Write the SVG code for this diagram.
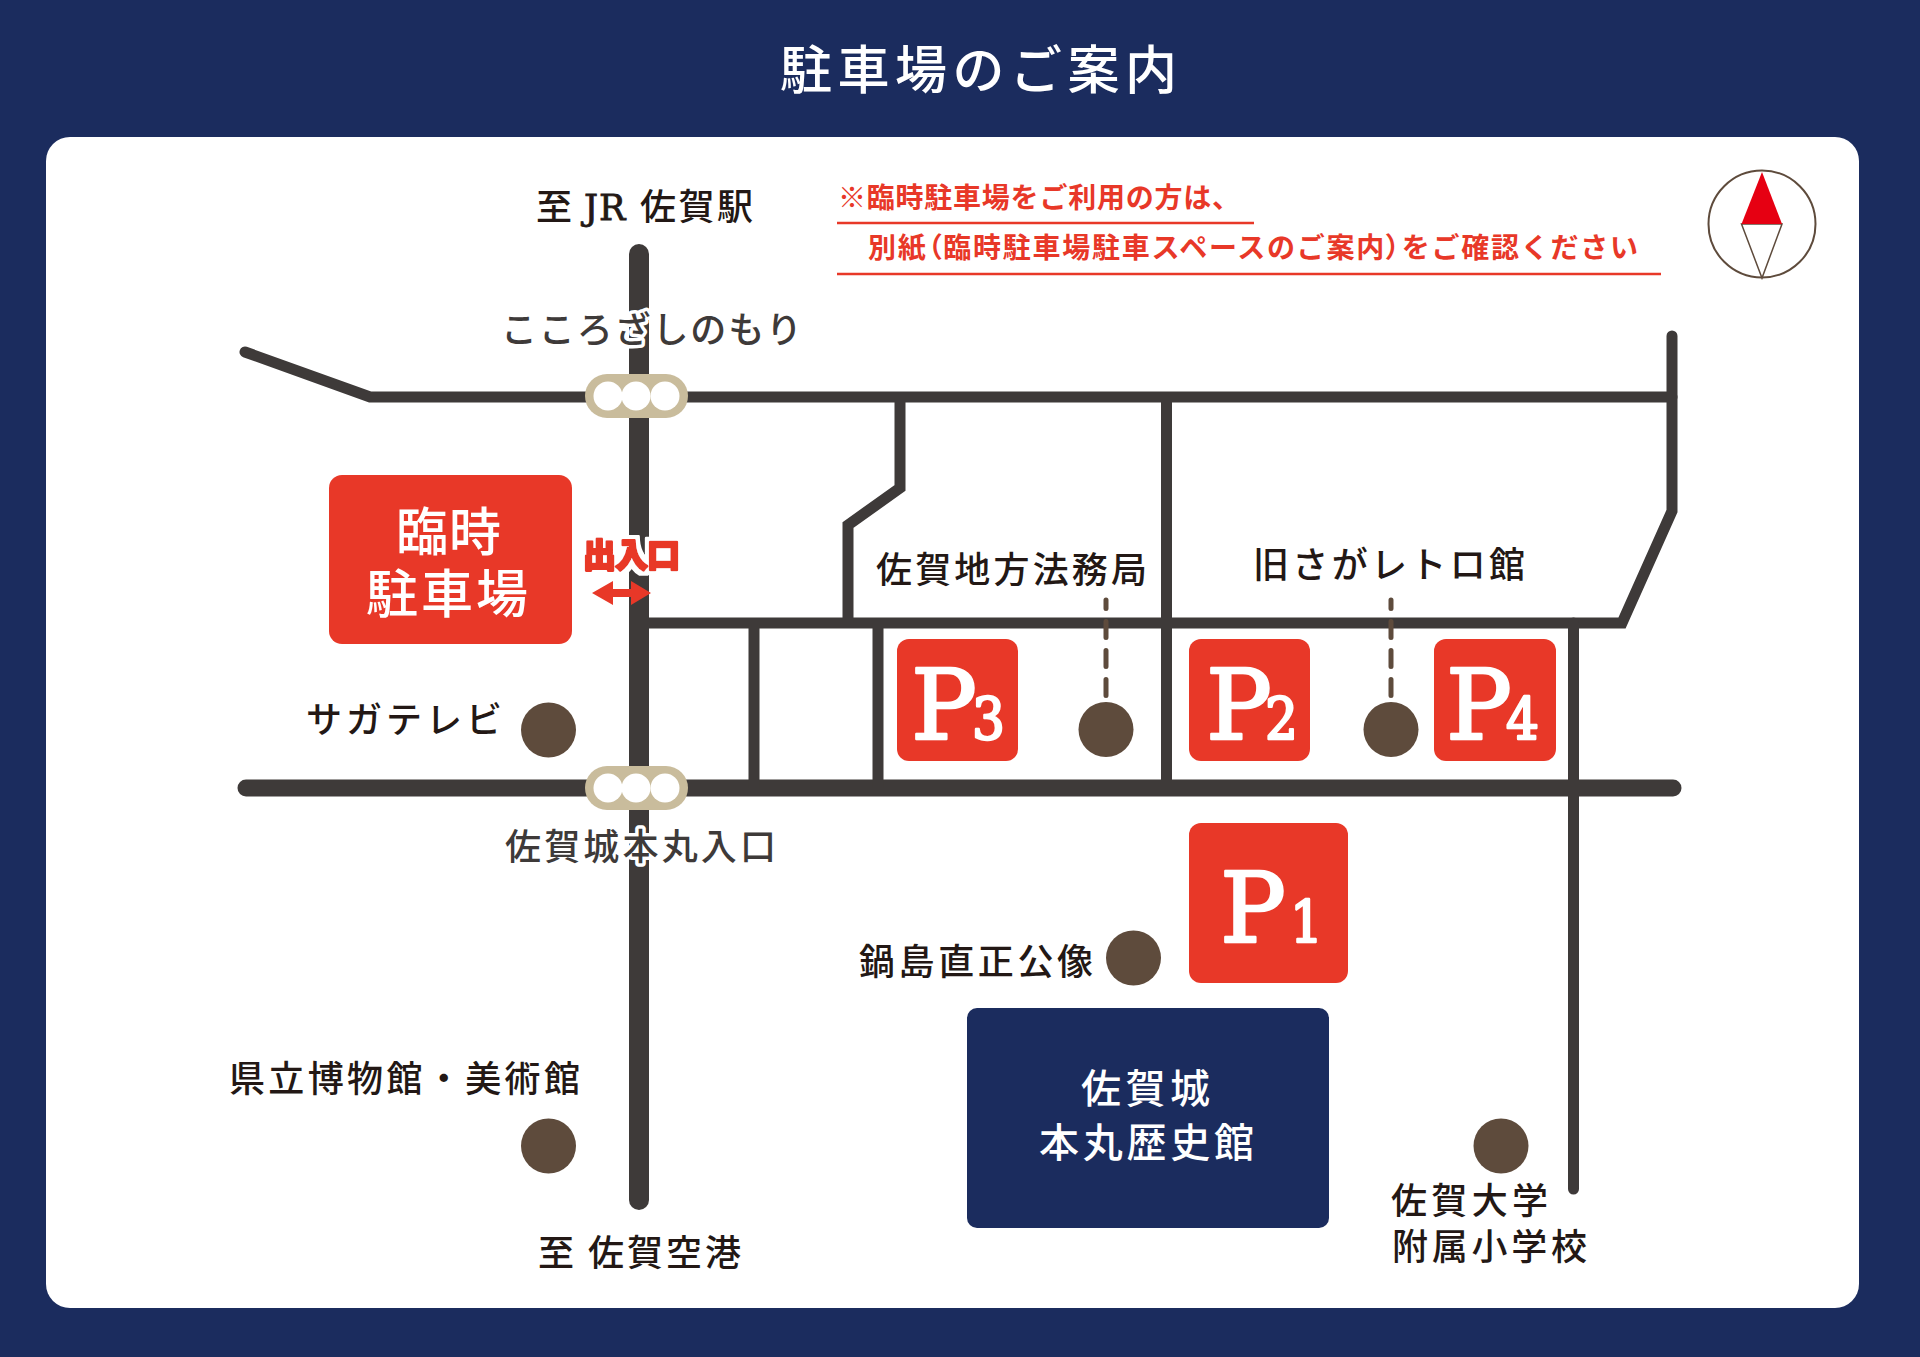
<svg xmlns="http://www.w3.org/2000/svg" width="1920" height="1357" viewBox="0 0 1920 1357">
<defs>
<filter id="wh" x="-15%" y="-30%" width="130%" height="160%"><feMorphology in="SourceAlpha" operator="dilate" radius="4"/><feComposite in2="SourceAlpha" operator="over" result="d"/><feFlood flood-color="#fff"/><feComposite in2="d" operator="in" result="h"/><feMerge><feMergeNode in="h"/><feMergeNode in="SourceGraphic"/></feMerge></filter>
</defs>
<style>
text{font-family:"Noto Sans CJK JP","Noto Sans",sans-serif;fill:#231815}
.road{fill:none;stroke:#3e3a39;stroke-linejoin:miter}
.rc{stroke-linecap:round}
.dash{fill:none;stroke:#5e4b3c;stroke-width:5;stroke-linecap:round;stroke-dasharray:16 13}
.pill{fill:#c9bc9c}
.lamp{fill:#fff}
.dot{fill:#5e4b3c}
.red{fill:#e83828}
.lb{font-size:36px;font-weight:500}
.halo{stroke:#fff;stroke-width:7;paint-order:stroke;stroke-linejoin:round;fill:#3e3a39}
.w{fill:#fff}
.note{font-size:28px;font-weight:700;fill:#e83828}
.p{font-family:"DejaVu Serif",serif;fill:#fff;stroke:#fff;stroke-width:2.500;stroke-linejoin:round}
.pl{font-size:98px}
.pd{font-size:58px}
.rule{stroke:#e83828;stroke-width:2.500}
.palt{font-feature-settings:"palt"}
.jr{font-family:"DejaVu Serif",serif;font-size:35px;letter-spacing:1px;stroke:#231815;stroke-width:.8px}
</style>
<rect width="1920" height="1357" fill="#1b2c5e"/>
<rect x="46" y="137" width="1813" height="1171" rx="24" fill="#fff"/>
<g id="title"><text class="w" x="780" y="89" font-size="52" font-weight="500" textLength="397">駐車場のご案内</text></g>
<g id="roads">
<path class="road rc" stroke-width="11" d="M245 352L370 397H1672"/>
<path class="road rc" stroke-width="11" d="M1672 336V511L1622 623H645"/>
<path class="road rc" stroke-width="17" d="M246 788H1673"/>
<path class="road rc" stroke-width="20" d="M639 254V1200"/>
<path class="road" stroke-width="11" d="M900 397V488L848 525V623"/>
<path class="road" stroke-width="11" d="M754 623V788"/>
<path class="road" stroke-width="11" d="M878 623V788"/>
<path class="road" stroke-width="11" d="M1166.500 397V788"/>
<path class="road rc" stroke-width="11" d="M1573.500 623V1189"/>
<path class="dash" d="M1106 695.500V600"/>
<path class="dash" d="M1391 695.500V600"/>
</g>
<g id="signal-north"><rect class="pill" x="585" y="374" width="103" height="44" rx="22"/><circle class="lamp" cx="608" cy="396" r="14.500"/><circle class="lamp" cx="636" cy="396" r="14.500"/><circle class="lamp" cx="665" cy="396" r="14.500"/></g>
<g id="signal-south"><rect class="pill" x="585" y="766" width="103" height="44" rx="22"/><circle class="lamp" cx="608" cy="788" r="14.500"/><circle class="lamp" cx="636" cy="788" r="14.500"/><circle class="lamp" cx="665" cy="788" r="14.500"/></g>
<g id="to-station"><text class="lb" x="536" y="220">至<tspan class="jr" x="584">JR</tspan><tspan x="640" textLength="113">佐賀駅</tspan></text></g>
<g id="to-airport"><text class="lb" x="538" y="1266" textLength="203">至 佐賀空港</text></g>
<g id="kokorozashi"><text class="lb halo" x="501" y="343" textLength="301">こころざしのもり</text></g>
<g id="honmaru-iriguchi"><text class="lb halo" x="505" y="860" textLength="271">佐賀城本丸入口</text></g>
<g id="notes">
<text class="note" x="838" y="208" textLength="402">※臨時駐車場をご利用の方は、</text>
<line class="rule" x1="837" y1="223" x2="1254" y2="223"/>
<text class="note" x="868" y="258" textLength="770">別紙<tspan class="palt">（</tspan>臨時駐車場駐車スペースのご案内<tspan class="palt">）</tspan>をご確認ください</text>
<line class="rule" x1="837" y1="274" x2="1661" y2="274"/>
</g>
<g id="compass">
<circle cx="1762" cy="224" r="53.500" fill="#fff" stroke="#5e4b3c" stroke-width="2"/>
<path d="M1741.500 224L1762 278L1782 224Z" fill="#fff" stroke="#5e4b3c" stroke-width="1.500"/>
<path d="M1741.500 224L1762 172L1782 224Z" fill="#e60012"/>
</g>
<g id="temp-parking">
<rect class="red" x="329" y="475" width="243" height="169" rx="13"/>
<text class="w" x="396" y="551" font-size="52" font-weight="500" textLength="105">臨時</text>
<text class="w" x="366" y="613" font-size="52" font-weight="500" textLength="162">駐車場</text>
</g>
<g id="entrance">
<text x="583" y="567" font-size="33" font-weight="900" textLength="97" filter="url(#wh)" style="fill:#e83828;stroke:#e83828;stroke-width:2.500;stroke-linejoin:round">出入口</text>
<path class="red" d="M592 593L613 581V589H631V581L651 593L631 605V597H613V605Z"/>
</g>
<g id="p3"><rect class="red" x="897" y="639" width="121" height="122" rx="12"/><text class="p pl" x="911" y="739">P</text><text class="p pd" x="972" y="739" textLength="33" lengthAdjust="spacingAndGlyphs">3</text></g>
<g id="p2"><rect class="red" x="1189" y="639" width="121" height="122" rx="12"/><text class="p pl" x="1206" y="739">P</text><text class="p pd" x="1265" y="739" textLength="33" lengthAdjust="spacingAndGlyphs">2</text></g>
<g id="p4"><rect class="red" x="1434" y="639" width="122" height="122" rx="12"/><text class="p pl" x="1446" y="739">P</text><text class="p pd" x="1506" y="739" textLength="33" lengthAdjust="spacingAndGlyphs">4</text></g>
<g id="p1"><rect class="red" x="1189" y="823" width="159" height="160" rx="12"/><text class="p pl" x="1220" y="942">P</text><text class="p pd" x="1290" y="942" textLength="33" lengthAdjust="spacingAndGlyphs">1</text></g>
<g id="honmaru-museum">
<rect x="967" y="1008" width="362" height="220" rx="10" fill="#1b2c5e"/>
<text class="w" x="1081" y="1103" font-size="40" font-weight="500" textLength="129">佐賀城</text>
<text class="w" x="1039" y="1157" font-size="40" font-weight="500" textLength="215">本丸歴史館</text>
</g>
<g id="legal-bureau"><text class="lb" x="876" y="583" textLength="271">佐賀地方法務局</text><circle class="dot" cx="1106" cy="729.500" r="27.500"/></g>
<g id="retro-hall"><text class="lb" x="1253" y="578" textLength="272">旧さがレトロ館</text><circle class="dot" cx="1391" cy="729.500" r="27.500"/></g>
<g id="saga-tv"><text class="lb" x="306" y="733" textLength="196">サガテレビ</text><circle class="dot" cx="548.500" cy="730" r="27.500"/></g>
<g id="nabeshima"><text class="lb" x="859" y="975" textLength="234">鍋島直正公像</text><circle class="dot" cx="1133.500" cy="958" r="27.500"/></g>
<g id="museum"><text class="lb" x="229" y="1092" textLength="351">県立博物館・美術館</text><circle class="dot" cx="548.500" cy="1146" r="27.500"/></g>
<g id="school"><text class="lb" x="1391" y="1214" textLength="157">佐賀大学</text><text class="lb" x="1392" y="1260" textLength="195">附属小学校</text><circle class="dot" cx="1501" cy="1146" r="27.500"/></g>
</svg>
